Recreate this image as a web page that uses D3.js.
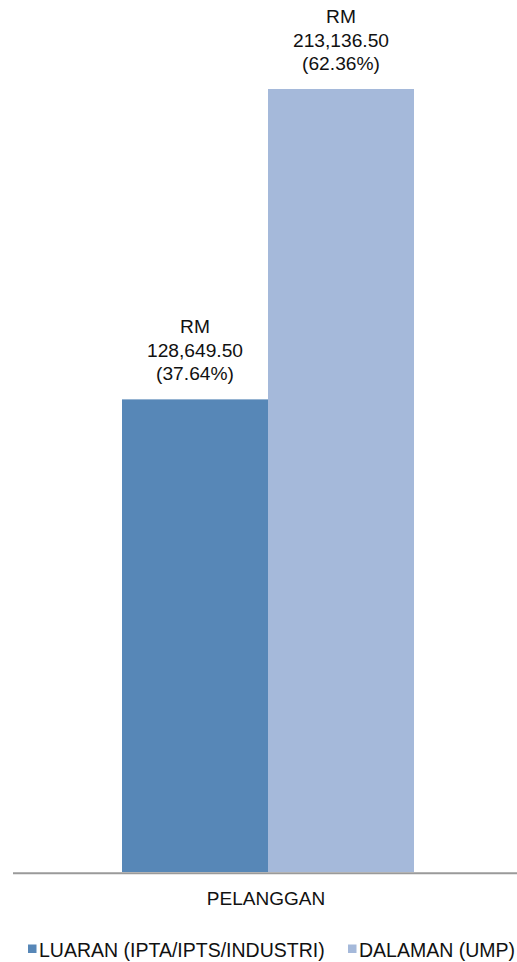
<!DOCTYPE html>
<html>
<head>
<meta charset="utf-8">
<script src="https://cdn.jsdelivr.net/npm/d3@7"></script>
<style>
  html, body { margin: 0; padding: 0; background: #fff; }
  svg { display: block; font-family: "Liberation Sans", Arial, Helvetica, sans-serif; }
</style>
</head>
<body>
<svg id="chart" width="517" height="962"></svg>
<script>
// Revenue by customer type
const categories = ["PELANGGAN"];
const seriesNames = ["LUARAN (IPTA/IPTS/INDUSTRI)", "DALAMAN (UMP)"];
const seriesValues = [128649.50, 213136.50];
const seriesPercents = ["37.64%", "62.36%"];
const seriesColors = ["#5787B7", "#A5B9DA"];

const svg = d3.select("#chart");
const baseY = 872;

const x0 = d3.scaleBand().domain(categories).range([122, 414]).padding(0);
const x1 = d3.scaleBand().domain(seriesNames).range([0, x0.bandwidth()]).padding(0);
const y = d3.scaleLinear().domain([0, d3.max(seriesValues)]).range([baseY, 89]);

const rows = seriesNames.map((name, i) => ({
  name, value: seriesValues[i], pct: seriesPercents[i], color: seriesColors[i]
}));

const g = svg.append("g").attr("transform", `translate(${x0(categories[0])},0)`);

g.selectAll("rect.bar")
  .data(rows)
  .join("rect")
  .attr("class", "bar")
  .attr("x", d => x1(d.name))
  .attr("y", d => y(d.value))
  .attr("width", x1.bandwidth())
  .attr("height", d => baseY - y(d.value))
  .attr("fill", d => d.color);

// Value labels above each bar
const fmt = d3.format(",.2f");
const labels = g.selectAll("text.val")
  .data(rows)
  .join("text")
  .attr("class", "val")
  .attr("text-anchor", "middle")
  .attr("font-size", 19.2)
  .attr("fill", "#111");
labels.each(function(d) {
  const t = d3.select(this);
  const cx = x1(d.name) + x1.bandwidth() / 2;
  const top = y(d.value);
  [["RM", -66], [fmt(d.value), -42.5], [`(${d.pct})`, -19]].forEach(([s, dy]) => {
    t.append("tspan").attr("x", cx).attr("y", top + dy).text(s);
  });
});

// Category axis
const xAxis = d3.scaleBand().domain(categories).range([13, 517]);
svg.append("line")
  .attr("x1", 13).attr("x2", 517)
  .attr("y1", baseY + 1.2).attr("y2", baseY + 1.2)
  .attr("stroke", "#9a9a9a").attr("stroke-width", 2);
svg.selectAll("text.cat")
  .data(categories)
  .join("text")
  .attr("class", "cat")
  .attr("x", d => xAxis(d) + xAxis.bandwidth() / 2 + 1)
  .attr("y", 905)
  .attr("text-anchor", "middle")
  .attr("font-size", 19)
  .attr("fill", "#111")
  .text(d => d);

// Legend
const legendX = [28, 348];
const legend = svg.selectAll("g.leg")
  .data(rows)
  .join("g")
  .attr("class", "leg")
  .attr("transform", (d, i) => `translate(${legendX[i]},0)`);
legend.append("rect")
  .attr("x", 0).attr("y", 944.5)
  .attr("width", 8.5).attr("height", 8.5)
  .attr("fill", d => d.color);
legend.append("text")
  .attr("x", 11).attr("y", 956.7)
  .attr("font-size", 19.5)
  .attr("fill", "#111")
  .text(d => d.name);
</script>
</body>
</html>
